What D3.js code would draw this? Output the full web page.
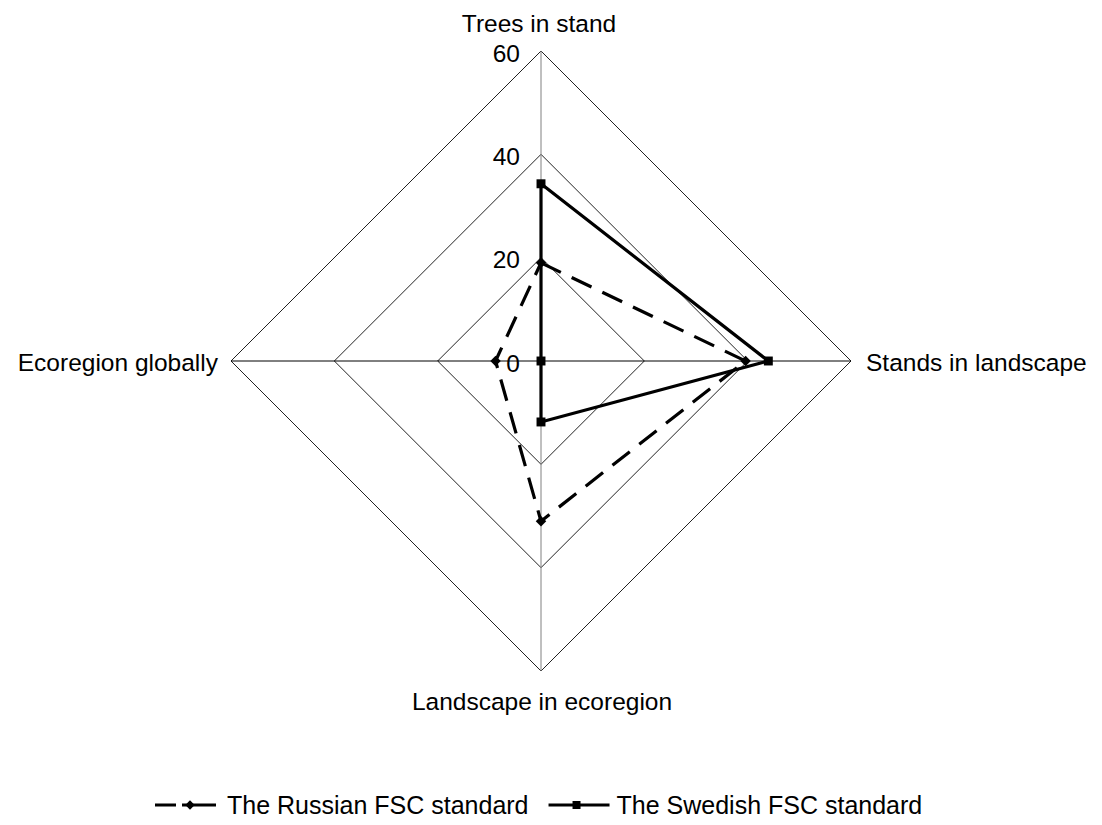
<!DOCTYPE html>
<html>
<head>
<meta charset="utf-8">
<script src="https://cdn.jsdelivr.net/npm/d3@7"></script>
<style>
  body { margin: 0; background: #fff; }
  text { font-family: "Liberation Sans", Arial, sans-serif; fill: #000; }
</style>
</head>
<body>
<div id="chart"></div>
<script>
// data
var axes = ["Trees in stand", "Stands in landscape", "Landscape in ecoregion", "Ecoregion globally"];
var russian = [19, 39.6, 31, 8.8];
var swedish = [34.3, 44, 11.8, 0];
var ticks = [0, 20, 40, 60];
var seriesNames = ["The Russian FSC standard", "The Swedish FSC standard"];

var width = 1102, height = 825;
var cx = 541, cy = 361, R = 310;
var fontSize = "24.5px";

var rscale = d3.scaleLinear().domain([0, 60]).range([0, R]);
// clockwise from top
var angle = d3.scalePoint().domain(axes.concat(["_end"])).range([-Math.PI / 2, 1.5 * Math.PI]);

function pt(axis, v) {
    var a = angle(axis), r = rscale(v);
    return [cx + r * Math.cos(a), cy + r * Math.sin(a)];
}

var svg = d3.select("#chart").append("svg")
    .attr("width", width)
    .attr("height", height);

// grid rings
var ring = d3.line();
svg.append("g").selectAll("path")
    .data(ticks.filter(function (d) { return d > 0; }))
    .enter().append("path")
    .attr("d", function (t) {
        return ring(axes.map(function (a) { return pt(a, t); })) + "Z";
    })
    .attr("fill", "none")
    .attr("stroke", "#222")
    .attr("stroke-width", 1);

// spokes
svg.append("g").selectAll("line")
    .data(axes)
    .enter().append("line")
    .attr("x1", cx).attr("y1", cy)
    .attr("x2", function (a) { return pt(a, 60)[0]; })
    .attr("y2", function (a) { return pt(a, 60)[1]; })
    .attr("stroke", function (a, i) { return i % 2 == 0 ? "#808080" : "#000"; })
    .attr("stroke-width", 1);

// value labels on the top spoke
svg.append("g").selectAll("text")
    .data(ticks)
    .enter().append("text")
    .attr("x", cx - 21)
    .attr("y", function (d) { return cy - rscale(d) + 10.5; })
    .attr("text-anchor", "end")
    .style("font-size", fontSize)
    .text(function (d) { return d; });

// category labels
var labelPos = [
    { anchor: "middle", dx: -2, dy: -19 },
    { anchor: "start", dx: 15, dy: 10 },
    { anchor: "middle", dx: 1, dy: 39 },
    { anchor: "end", dx: -13, dy: 10 }
];
svg.append("g").selectAll("text")
    .data(axes)
    .enter().append("text")
    .attr("x", function (a, i) { return pt(a, 60)[0] + labelPos[i].dx; })
    .attr("y", function (a, i) { return pt(a, 60)[1] + labelPos[i].dy; })
    .attr("text-anchor", function (a, i) { return labelPos[i].anchor; })
    .style("font-size", fontSize)
    .text(function (a) { return a; });

// series
var series = [
    { name: seriesNames[0], values: russian, dash: "22,12", marker: d3.symbolDiamond2, msize: 70 },
    { name: seriesNames[1], values: swedish, dash: null, marker: d3.symbolSquare, msize: 80 }
];

series.forEach(function (s) {
    var pts = axes.map(function (a, i) { return pt(a, s.values[i]); });
    var g = svg.append("g");
    g.append("path")
        .attr("d", d3.line()(pts) + "Z")
        .attr("fill", "none")
        .attr("stroke", "#000")
        .attr("stroke-width", 3.2)
        .attr("stroke-dasharray", s.dash)
        .attr("stroke-linejoin", "miter");
    g.selectAll("path.m")
        .data(pts)
        .enter().append("path")
        .classed("m", true)
        .attr("transform", function (p) { return "translate(" + p[0] + "," + p[1] + ")"; })
        .attr("d", d3.symbol().type(s.marker).size(s.msize))
        .attr("fill", "#000");
});

// legend
var legend = svg.append("g").attr("transform", "translate(0,805)");
var lx = 155;
series.forEach(function (s) {
    var item = legend.append("g").attr("transform", "translate(" + lx + ",0)");
    item.append("line")
        .attr("x1", 0).attr("x2", 61)
        .attr("stroke", "#000")
        .attr("stroke-width", 3.2)
        .attr("stroke-dasharray", s.dash ? "21,6,40" : null);
    item.append("path")
        .attr("transform", "translate(" + (s.dash ? 35 : 28) + ",0)")
        .attr("d", d3.symbol().type(s.marker).size(s.msize * 0.8))
        .attr("fill", "#000");
    var t = item.append("text")
        .attr("x", s.dash ? 72 : 68)
        .attr("y", 9)
        .style("font-size", "25px")
        .text(s.name);
    lx += (s.dash ? 72 : 68) + t.node().getComputedTextLength() + 20;
});
</script>
</body>
</html>
